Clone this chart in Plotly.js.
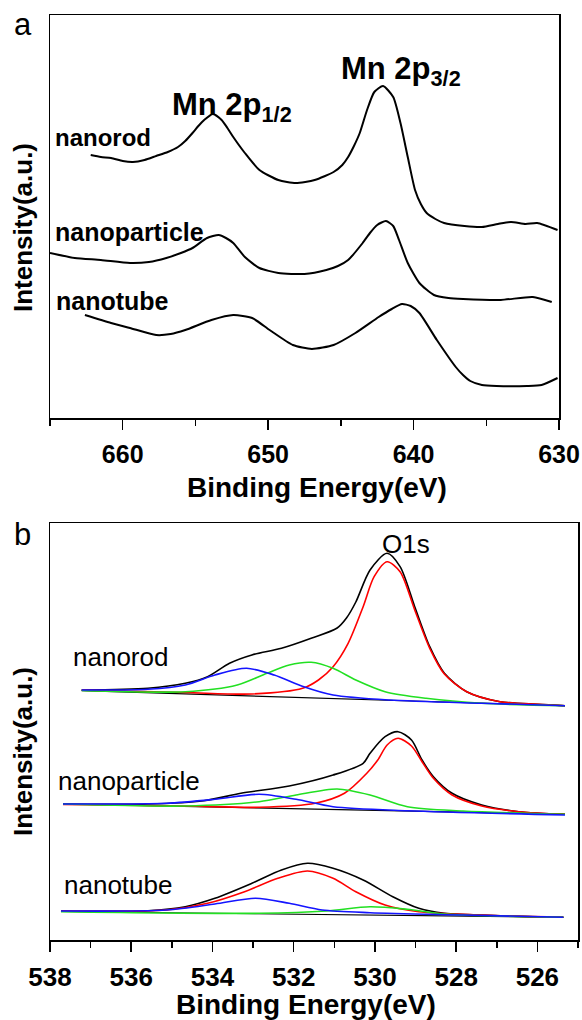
<!DOCTYPE html>
<html>
<head>
<meta charset="utf-8">
<script src="https://cdn.plot.ly/plotly-3.0.1.min.js"></script>
<style>html,body{margin:0;padding:0;background:#fff;}#chart{width:582px;height:1020px;}</style>
</head>
<body>
<div id="chart"></div>
<script>
// ---------- Panel a: Mn 2p ----------
var mnTicks = [660, 650, 640, 630];
var mnMinor = [665, 655, 645, 635];
var rodE = [662.2,661.5,660.8,660.0,659.3,658.5,657.7,656.9,656.2,655.7,655.2,654.8,654.4,653.8,653.2,652.8,652.4,651.6,650.6,649.3,648.1,646.8,645.5,644.9,644.5,644.1,643.7,643.2,642.7,642.1,641.4,640.9,640.4,639.9,639.5,639.1,638.5,637.9,636.5,635.3,634.2,633.3,632.3,631.5,630.1];
var rodI = [263,261,260,257,256,258,262,266,271,277,285,292,298,304,298,290,281,265,248,238,235,238,246,253,261,272,285,308,326,332,321,295,261,228,214,205,199,195,192,191,194,196,194,195,188];
var partE = [665.0,663.3,661.5,659.5,658.2,657.0,656.0,655.2,654.2,653.4,652.9,652.4,651.6,650.6,649.3,647.5,646.0,645.2,644.5,643.5,643.0,642.5,641.9,641.4,641.0,640.4,639.6,638.6,637.6,636.6,634.0,631.8,630.5];
var partI = [165,160,158,155,156,160,165,170,180,183,180,175,161,150,145,144,148,152,158,175,185,193,197,192,178,155,135,123,120,119,118,121,116];
var tubeE = [662.6,660.8,659.5,657.7,656.7,655.7,653.9,652.4,651.1,649.9,648.3,647.0,645.5,644.0,642.4,641.5,640.8,640.2,639.6,638.4,637.1,636.6,636.1,635.3,634.3,632.2,631.2,630.1];
var tubeI = [103,95,90,83,84,88,98,103,100,88,73,69,73,85,101,109,114,112,105,78,51,43,37,33,32,32,33,40];

// ---------- Panel b: O 1s ----------
var oTicks = [538, 536, 534, 532, 530, 528, 526];
var oMinor = [537, 535, 533, 531, 529, 527, 525];
// nanorod
var rodEnvE = [537.22,535.59,534.67,534.12,533.58,533.03,532.30,531.57,530.93,530.70,530.47,530.12,529.70,529.38,529.02,528.65,528.29,527.74,526.92,526.0,525.32];
var rodEnvI = [250,251.7,256.7,263.3,276.7,285,291.7,301.7,312,322,338,370,386.7,373.3,333.3,293.3,266.7,248.3,238.3,235.7,234.3];
var rodRedE = [537.22,534.67,533.03,531.78,531.39,531.03,530.66,530.29,530.02,529.70,529.38,529.02,528.65,528.29,527.74,526.92,526.0,525.32];
var rodRedI = [250,247.5,246,251.7,260,273.3,296.7,333.3,363.3,378.3,368.3,330,291.7,266,248.3,238.3,235.7,234.3];
var rodGreenE = [537.22,534.67,533.39,532.66,532.11,531.57,531.03,530.47,529.75,528.74,527.37,525.32];
var rodGreenI = [249.5,248.3,255,266.7,275,277.7,271.7,260,248.3,241.7,236.7,234.3];
var rodBlueE = [537.22,535.59,534.67,533.94,533.16,532.48,531.75,531.03,529.65,527.37,525.32];
var rodBlueI = [250,250.7,255,265,271.7,265,253.3,245,240,236.7,234.3];
var rodBaseE = [537.22, 525.32];
var rodBaseI = [249.3, 234.3];
// nanoparticle
var partEnvE = [537.68,535.59,534.21,533.30,532.11,531.03,530.29,530.12,529.75,529.43,529.1,528.84,528.56,528.1,527.37,526.46,525.32];
var partEnvI = [136,136,139.3,146.7,154,165,176.7,186.7,203.3,208.3,200,180,163.3,146.7,135,128.3,125.7];
var partRedE = [537.68,534.67,532.85,531.47,530.75,530.20,529.93,529.70,529.43,529.1,528.84,528.56,528.1,527.37,526.46,525.32];
var partRedI = [135.5,134,132.7,136.7,146.7,166.7,180,195,201.7,194,178.3,161.7,145,134,128.3,125.7];
var partGreenE = [537.68,534.67,532.85,531.94,530.93,530.12,529.2,527.83,525.32];
var partGreenI = [136,134,138.3,145,151,145,133.3,129,125.7];
var partBlueE = [537.68,535.13,533.94,532.85,531.94,531.03,529.2,525.32];
var partBlueI = [136,136.7,140.7,145.7,140.7,133.3,129.3,125];
var partBaseE = [537.68, 525.32];
var partBaseI = [136, 125.7];
// nanotube
var tubeEnvE = [537.73,535.59,534.67,533.94,533.03,532.30,531.66,531.03,530.29,529.56,528.92,528.29,526.92,525.36];
var tubeEnvI = [29,29.3,33.3,41.7,56.7,70,76.7,71.7,60,43.3,31.7,26.7,24.3,22.7];
var tubeRedE = [537.73,535.13,534.12,533.21,532.39,531.66,531.03,530.47,529.75,528.92,527.37,525.36];
var tubeRedI = [29,30,36.7,48.3,61.7,69,61.7,48.3,35,28.3,25,22.7];
var tubeGreenE = [537.73,532.85,531.2,530.12,529.2,528.29,525.36];
var tubeGreenI = [28.3,26.7,29,33.3,30.7,26,22.7];
var tubeBlueE = [537.73,535.13,533.94,532.94,532.11,531.3,530.12,527.83,525.36];
var tubeBlueI = [29,30,36,41.7,36.7,30,27.3,25,22.7];
var tubeBaseE = [537.73, 525.36];
var tubeBaseI = [28.5, 22.7];

var FONT = 'Liberation Sans, Arial, Helvetica, sans-serif';
var W = 582, H = 1020;
function px(x) { return x / W; }
function py(y) { return 1 - y / H; }

function line(x, y, color, width, axis, shape, sm) {
  return {
    x: x, y: y, type: 'scatter', mode: 'lines',
    xaxis: axis[0], yaxis: axis[1], hoverinfo: 'skip',
    line: {color: color, width: width, shape: shape || 'spline', smoothing: sm || 0.8}
  };
}
var A = ['x', 'y'], B = ['x2', 'y2'];
var RED = '#ff0000', GREEN = '#22e022', BLUE = '#1414ff', BLK = '#000000';

var traces = [
  line(rodE, rodI, BLK, 2, A, 'spline', 0.6),
  line(partE, partI, BLK, 2, A, 'spline', 0.6),
  line(tubeE, tubeI, BLK, 2, A, 'spline', 0.6),

  line(rodEnvE, rodEnvI, BLK, 1.6, B),
  line(rodBaseE, rodBaseI, BLK, 1.2, B, 'linear'),
  line(rodRedE, rodRedI, RED, 1.6, B),
  line(rodGreenE, rodGreenI, GREEN, 1.6, B),
  line(rodBlueE, rodBlueI, BLUE, 1.6, B),

  line(partEnvE, partEnvI, BLK, 1.6, B),
  line(partBaseE, partBaseI, BLK, 1.2, B, 'linear'),
  line(partRedE, partRedI, RED, 1.6, B),
  line(partGreenE, partGreenI, GREEN, 1.6, B),
  line(partBlueE, partBlueI, BLUE, 1.6, B),

  line(tubeEnvE, tubeEnvI, BLK, 1.6, B),
  line(tubeBaseE, tubeBaseI, BLK, 1.2, B, 'linear'),
  line(tubeRedE, tubeRedI, RED, 1.6, B),
  line(tubeGreenE, tubeGreenI, GREEN, 1.6, B),
  line(tubeBlueE, tubeBlueI, BLUE, 1.6, B)
];

function xax(domain, range, ticks, minor, size) {
  return {
    domain: domain, range: range, tickmode: 'array', tickvals: ticks,
    ticktext: ticks.map(String), ticks: 'outside', ticklen: 10, tickwidth: 1.5,
    tickcolor: BLK, showline: true, mirror: true, linecolor: BLK, linewidth: 1.5,
    showgrid: false, zeroline: false, ticklabelstandoff: 3,
    tickfont: {family: FONT, size: size, color: BLK, weight: 'bold'},
    minor: {tickmode: 'array', tickvals: minor, ticks: 'outside', ticklen: 6,
            tickwidth: 1.5, tickcolor: BLK, showgrid: false}
  };
}
function yax(domain, range, anchor) {
  return {
    domain: domain, range: range, anchor: anchor, showticklabels: false, ticks: '',
    showgrid: false, zeroline: false, showline: true, mirror: true,
    linecolor: BLK, linewidth: 1.5
  };
}

var xa = xax([px(50), px(559)], [665, 630], mnTicks, mnMinor, 25);
xa.anchor = 'y';
var xb = xax([px(50), px(578)], [538, 525], oTicks, oMinor, 26);
xb.anchor = 'y2';

function ann(text, x, y, size, bold, opts) {
  var a = {
    text: text, xref: 'paper', yref: 'paper', x: px(x), y: py(y),
    xanchor: 'left', yanchor: 'middle', showarrow: false,
    font: {family: FONT, size: size, color: BLK, weight: bold ? 'bold' : 'normal'}
  };
  for (var k in (opts || {})) a[k] = opts[k];
  return a;
}

var annotations = [
  ann('a', 12, 24, 31, false),
  ann('b', 12, 534, 31, false),
  ann('Mn 2p<sub>1/2</sub>', 170, 107, 31, true),
  ann('Mn 2p<sub>3/2</sub>', 339, 71, 31, true),
  ann('nanorod', 53, 138, 24, true),
  ann('nanoparticle', 53, 232, 25, true),
  ann('nanotube', 54, 301, 25, true),
  ann('O1s', 380, 544, 26, false),
  ann('nanorod', 71, 657, 26, false),
  ann('nanoparticle', 56, 781, 26, false),
  ann('nanotube', 62, 885, 26, false),
  ann('Binding Energy(eV)', 317, 487, 28, true, {xanchor: 'center'}),
  ann('Binding Energy(eV)', 306, 1004, 28, true, {xanchor: 'center'}),
  ann('Intensity(a.u.)', 23, 228, 26, true, {xanchor: 'center', textangle: -90}),
  ann('Intensity(a.u.)', 23, 752, 26, true, {xanchor: 'center', textangle: -90})
];

var layout = {
  width: W, height: H, margin: {l: 0, r: 0, t: 0, b: 0, pad: 0},
  paper_bgcolor: '#ffffff', plot_bgcolor: '#ffffff', showlegend: false,
  xaxis: xa,
  yaxis: yax([py(418), py(15)], [0, 403], 'x'),
  xaxis2: xb,
  yaxis2: yax([py(940), py(523)], [0, 417], 'x2'),
  annotations: annotations
};

Plotly.newPlot('chart', traces, layout, {staticPlot: true, displayModeBar: false});
</script>
</body>
</html>
